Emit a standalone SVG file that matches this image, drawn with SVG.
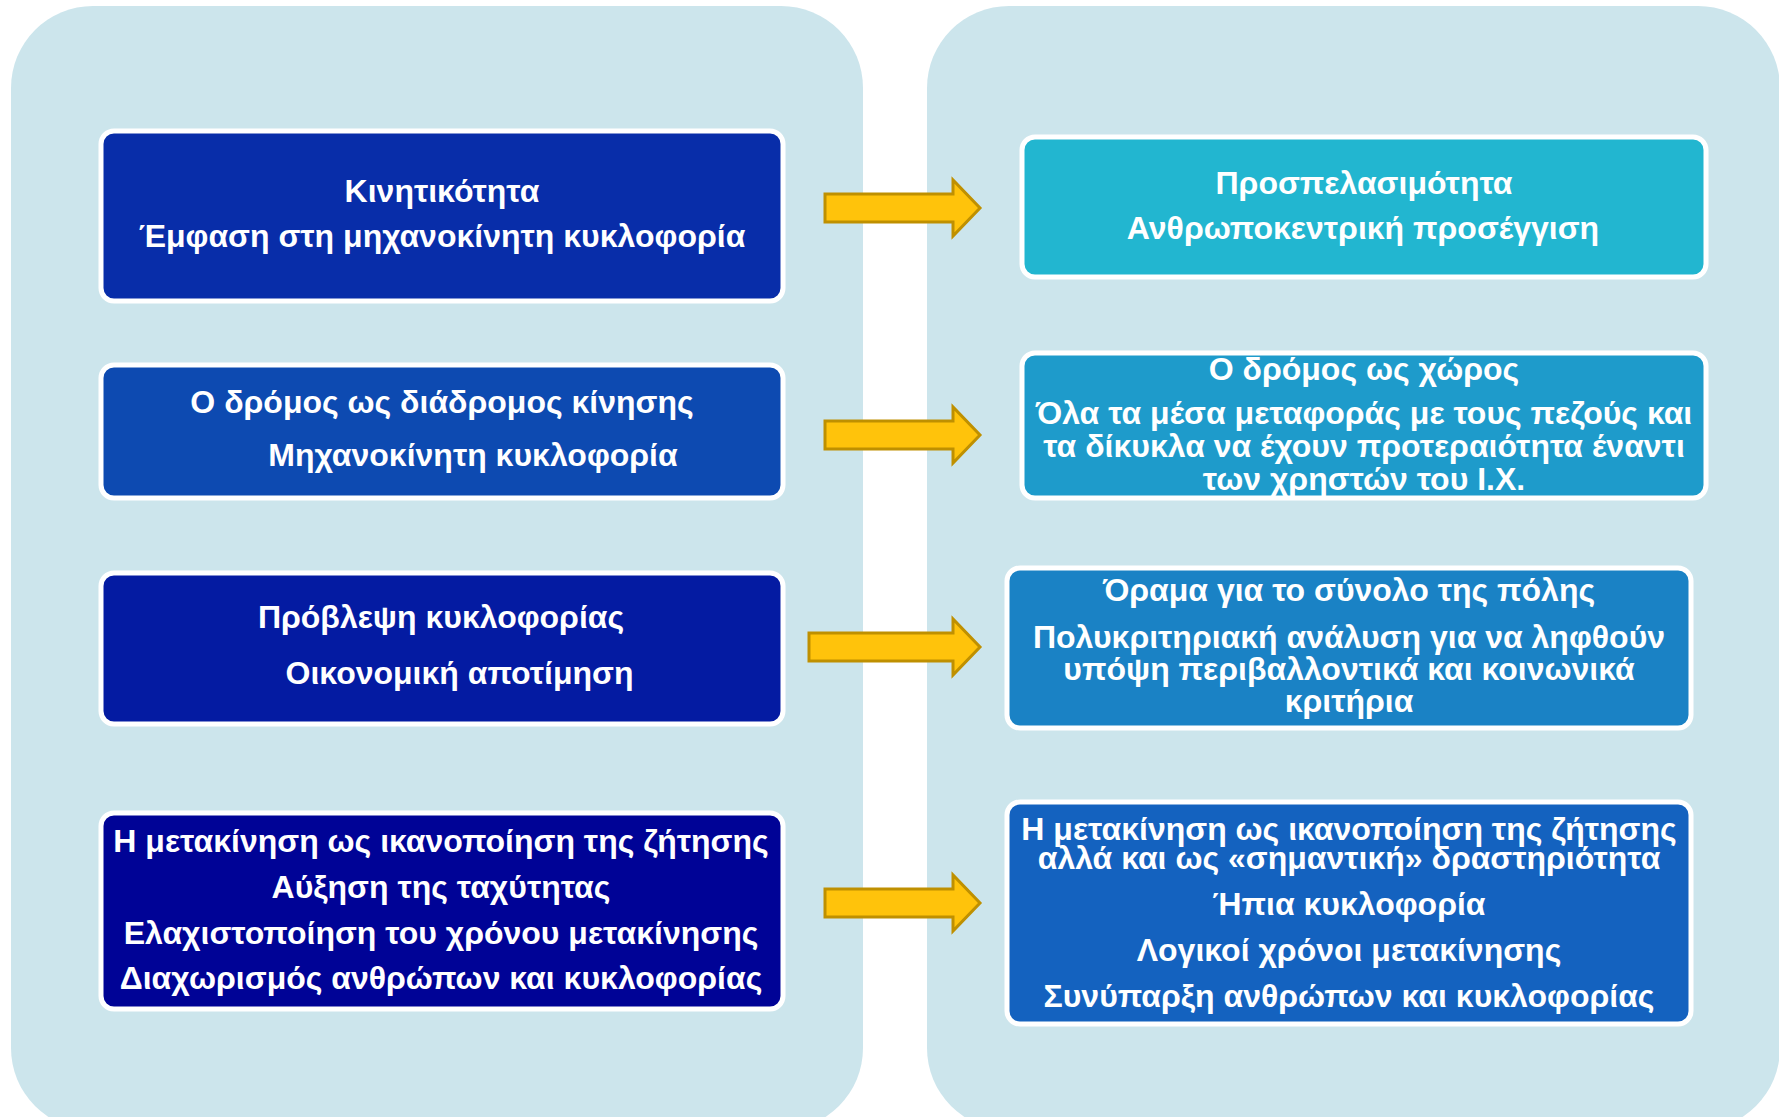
<svg xmlns="http://www.w3.org/2000/svg" width="1779" height="1117" viewBox="0 0 1779 1117">
<style>
.panel{fill:#CCE5EC}
.box{stroke:#FFFFFF;stroke-width:5}
.t{font-family:"Liberation Sans",Arial,sans-serif;font-weight:bold;font-size:32px;fill:#FFFFFF;text-anchor:middle}
.arrow{fill:#FFC30B;stroke:#BF9000;stroke-width:3;stroke-linejoin:miter}
</style>
<defs>
<clipPath id="clipR2"><rect x="1021" y="352" width="686" height="147" rx="12"/></clipPath>
</defs>
<rect class="panel" x="11" y="6" width="852" height="1124" rx="82" ry="82"/>
<rect class="panel" x="927" y="6" width="853" height="1124" rx="82" ry="82"/>

<g id="L1">
<rect class="box" x="101" y="131" width="682" height="170" rx="13" fill="#082DA9"/>
<text class="t" x="442" y="202">Κινητικότητα</text>
<text class="t" x="442" y="246.5">Έμφαση στη μηχανοκίνητη κυκλοφορία</text>
</g>
<g id="L2">
<rect class="box" x="101" y="365" width="682" height="133" rx="13" fill="#0D4AB1"/>
<text class="t" x="442" y="412.5">Ο δρόμος ως διάδρομος κίνησης</text>
<text class="t" x="473" y="466">Μηχανοκίνητη κυκλοφορία</text>
</g>
<g id="L3">
<rect class="box" x="101" y="573" width="682" height="151" rx="13" fill="#041BA2"/>
<text class="t" x="441" y="628.3">Πρόβλεψη κυκλοφορίας</text>
<text class="t" x="459.5" y="683.5">Οικονομική αποτίμηση</text>
</g>
<g id="L4">
<rect class="box" x="101" y="813" width="682" height="196" rx="13" fill="#000396"/>
<text class="t" x="441" y="852">Η μετακίνηση ως ικανοποίηση της ζήτησης</text>
<text class="t" x="441" y="897.7">Αύξηση της ταχύτητας</text>
<text class="t" x="441" y="943.7">Ελαχιστοποίηση του χρόνου μετακίνησης</text>
<text class="t" x="441" y="989">Διαχωρισμός ανθρώπων και κυκλοφορίας</text>
</g>

<g id="R1">
<rect class="box" x="1022" y="137" width="684" height="140" rx="13" fill="#22B6D0"/>
<text class="t" x="1364" y="194">Προσπελασιμότητα</text>
<text class="t" x="1363" y="239.3">Ανθρωποκεντρική προσέγγιση</text>
</g>
<g id="R2">
<rect x="1022" y="353" width="684" height="145" rx="13" fill="#1E9BCB"/>
<g clip-path="url(#clipR2)">
<text class="t" x="1364" y="379.6">Ο δρόμος ως χώρος</text>
<text class="t" x="1364" y="424">Όλα τα μέσα μεταφοράς με τους πεζούς και</text>
<text class="t" x="1364" y="457">τα δίκυκλα να έχουν προτεραιότητα έναντι</text>
<text class="t" x="1364" y="490">των χρηστών του Ι.Χ.</text>
</g>
<rect class="box" x="1022" y="353" width="684" height="145" rx="13" fill="none"/>
</g>
<g id="R3">
<rect class="box" x="1007" y="568" width="684" height="160" rx="13" fill="#1A82C5"/>
<text class="t" x="1349" y="600.7">Όραμα για το σύνολο της πόλης</text>
<text class="t" x="1349" y="647.5">Πολυκριτηριακή ανάλυση για να ληφθούν</text>
<text class="t" x="1349" y="680">υπόψη περιβαλλοντικά και κοινωνικά</text>
<text class="t" x="1349" y="712">κριτήρια</text>
</g>
<g id="R4">
<rect class="box" x="1007" y="802" width="684" height="222" rx="13" fill="#1462BF"/>
<text class="t" x="1349" y="840">Η μετακίνηση ως ικανοποίηση της ζήτησης</text>
<text class="t" x="1349" y="869.4">αλλά και ως «σημαντική» δραστηριότητα</text>
<text class="t" x="1349" y="915.4">Ήπια κυκλοφορία</text>
<text class="t" x="1349" y="961.4">Λογικοί χρόνοι μετακίνησης</text>
<text class="t" x="1349" y="1006.7">Συνύπαρξη ανθρώπων και κυκλοφορίας</text>
</g>

<g id="connectors">
<path class="arrow" d="M825,194 L953,194 L953,180 L980,208 L953,236 L953,222 L825,222 Z"/>
<path class="arrow" d="M825,421 L953,421 L953,407 L980,435 L953,463 L953,449 L825,449 Z"/>
<path class="arrow" d="M809,633 L953,633 L953,619 L980,647 L953,675 L953,661 L809,661 Z"/>
<path class="arrow" d="M825,889 L953,889 L953,875 L980,903 L953,931 L953,917 L825,917 Z"/>
</g>
</svg>
